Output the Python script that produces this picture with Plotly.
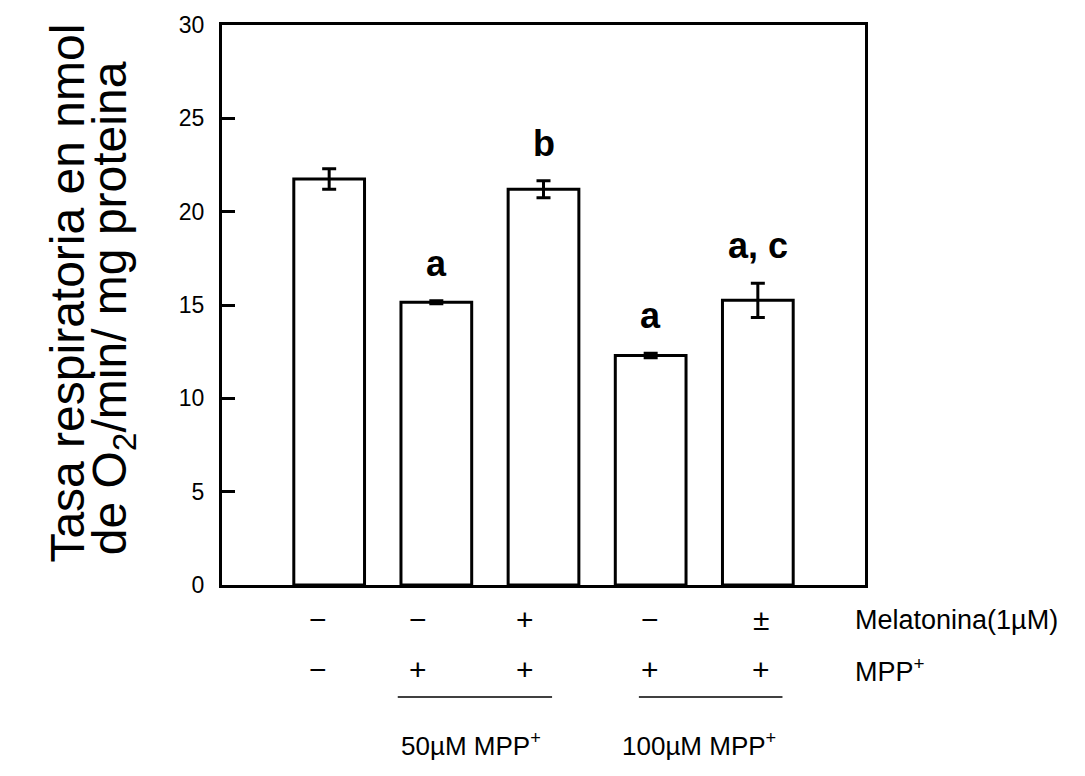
import plotly.graph_objects as go

# ---- data ----
categories = [0, 1, 2, 3, 4]
values = [21.75, 15.15, 21.2, 12.3, 15.25]
errors = [0.55, 0.08, 0.45, 0.12, 0.92]
sig_letters = ["", "a", "b", "a", "a, c"]
melatonina = ["\u2212", "\u2212", "+", "\u2212", "\u00b1"]
mpp = ["\u2212", "+", "+", "+", "+"]
group_labels = ["50\u00b5M MPP<sup>+</sup>", "100\u00b5M MPP<sup>+</sup>"]
y_ticks = [0, 5, 10, 15, 20, 25, 30]

FONT = "Liberation Sans, Arial, Helvetica, sans-serif"

fig = go.Figure()
fig.add_trace(go.Bar(
    x=categories, y=values, width=0.66,
    marker=dict(color="white", line=dict(color="black", width=3)),
    error_y=dict(type="data", array=errors, color="black", thickness=3, width=7),
    showlegend=False,
))

ann = []
# significance letters
for c, v, e, t in zip(categories, values, errors, sig_letters):
    if t:
        ann.append(dict(x=c, y=v + e + 2.0, xref="x", yref="y", text=t, showarrow=False,
                        xanchor="center", yanchor="middle",
                        font=dict(family=FONT, size=36, color="black", weight="bold")))

# treatment rows
sym_offsets = [-0.1, -0.17, -0.17, -0.01, 0.03]
for c, off, m1, m2 in zip(categories, sym_offsets, melatonina, mpp):
    ann.append(dict(x=c + off, y=-0.062, xref="x", yref="paper", text=m1, showarrow=False,
                    xanchor="center", yanchor="middle", font=dict(family=FONT, size=30, color="black")))
    ann.append(dict(x=c + off, y=-0.151, xref="x", yref="paper", text=m2, showarrow=False,
                    xanchor="center", yanchor="middle", font=dict(family=FONT, size=30, color="black")))
ann.append(dict(x=4.89, y=-0.062, xref="x", yref="paper", text="Melatonina(1\u00b5M)", showarrow=False,
                xanchor="left", yanchor="middle", font=dict(family=FONT, size=27, color="black")))
ann.append(dict(x=4.89, y=-0.151, xref="x", yref="paper", text="MPP<sup>+</sup>", showarrow=False,
                xanchor="left", yanchor="middle", font=dict(family=FONT, size=27, color="black")))

# group labels
for gx, gl in zip([1.32, 3.45], group_labels):
    ann.append(dict(x=gx, y=-0.284, xref="x", yref="paper", text=gl, showarrow=False,
                    xanchor="center", yanchor="middle", font=dict(family=FONT, size=26, color="black")))

# y-axis title (two rotated lines)
ann.append(dict(x=-0.2395, y=0.0355, xref="paper", yref="paper", text="Tasa respiratoria en nmol",
                showarrow=False, textangle=-90, xanchor="center", yanchor="bottom",
                font=dict(family=FONT, size=48, color="black")))
ann.append(dict(x=-0.1695, y=0.0496, xref="paper", yref="paper", text="de O<sub>2</sub>/min/ mg proteina",
                showarrow=False, textangle=-90, xanchor="center", yanchor="bottom",
                font=dict(family=FONT, size=48, color="black")))

shapes = []
for x0, x1 in [(0.64, 2.08), (2.89, 4.23)]:
    shapes.append(dict(type="line", xref="x", yref="paper", x0=x0, x1=x1, y0=-0.2, y1=-0.2,
                       line=dict(color="black", width=1.5)))

fig.update_layout(
    width=1085, height=776,
    margin=dict(l=222, r=220, t=21, b=191),
    paper_bgcolor="white", plot_bgcolor="white",
    annotations=ann, shapes=shapes,
    font=dict(family=FONT, color="black"),
    bargap=0.3,
)
fig.update_xaxes(range=[-1, 5], showline=True, linewidth=3, linecolor="black", mirror=True,
                 showticklabels=False, ticks="", showgrid=False, zeroline=False)
fig.update_yaxes(range=[0, 30], tickvals=y_ticks, ticks="inside", ticklen=13, tickwidth=3,
                 tickcolor="black", showline=True, linewidth=3, linecolor="black", mirror=True,
                 showgrid=False, zeroline=False, tickfont=dict(family=FONT, size=23, color="black"),
                 ticklabelstandoff=10)

fig.write_html("out.html")
